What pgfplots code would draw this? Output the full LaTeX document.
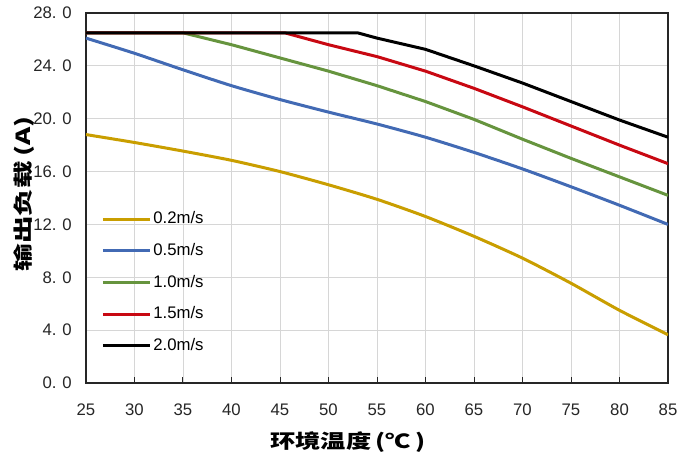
\documentclass[border=0pt]{standalone}
\usepackage{pgfplots}
\pgfplotsset{compat=1.18}
\usepackage{fontspec}
\setmainfont{Liberation Sans}
\newfontfamily\cjk{Noto Sans CJK SC}
\definecolor{cgold}{RGB}{201,158,0}
\definecolor{cblue}{RGB}{66,106,180}
\definecolor{cgreen}{RGB}{102,148,62}
\definecolor{cred}{RGB}{200,8,18}
\begin{document}
\begin{tikzpicture}
\begin{axis}[
  name=ax,
  width=582bp, height=370bp, scale only axis,
  xmin=25, xmax=85, ymin=0, ymax=28,
  xtick={25,30,...,85},
  ytick={0,4,...,28},
  yticklabels={0.\hspace{0.35em}0,4.\hspace{0.35em}0,8.\hspace{0.35em}0,12.\hspace{0.35em}0,16.\hspace{0.35em}0,20.\hspace{0.35em}0,24.\hspace{0.35em}0,28.\hspace{0.35em}0},
  /pgf/number format/assume math mode=true,
  grid=major,
  grid style={draw=black!16, line width=0.9bp},
  axis line style={line width=1.1bp, draw=black!85},
  tick align=inside,
  xtick pos=lower,
  ytick style={draw=none},
  xtick style={draw=black!85, line width=1bp},
  major tick length=6bp,
  tick label style={font=\fontsize{16.8}{19}\selectfont, text=black!85},
  xticklabel style={anchor=north, inner sep=0pt, yshift=-21bp},
  yticklabel style={anchor=east, inner sep=0pt, xshift=-14bp},
  xlabel={\scalebox{1.3}[1]{\cjk\bfseries 环境温度\,(℃\,)}},
  ylabel={\scalebox{1.42}[1]{\cjk\bfseries 输出负载\,(A)}},
  label style={font=\fontsize{19.5}{22}\selectfont},
  xlabel style={at={(axis description cs:0.45,-0.16)}, anchor=center},
  ylabel style={at={(axis description cs:-0.1065,0.511)}, anchor=center, rotate=0},
  no markers,
  legend cell align=left,
  legend image code/.code={\draw[#1, line width=3bp] (0bp,0bp) -- (47bp,0bp);},
  legend style={at={(rel axis cs:0.026,0.469)}, anchor=north west, draw=none, fill=none,
    inner sep=0pt, row sep=12.7bp, font=\fontsize{16.8}{19}\selectfont,
    nodes={inner sep=2bp, text height=12bp, text depth=3bp}},
]
\addplot[cgold, line width=3bp, smooth, tension=0.4] coordinates {
(25,18.8) (30,18.2) (35,17.55) (40,16.85) (45,16.0) (50,15.0) (55,13.9) (60,12.6) (65,11.1) (70,9.45) (75,7.55) (80,5.5) (85,3.65)};
\addlegendentry{0.2m/s}
\addplot[cblue, line width=3bp, smooth, tension=0.4] coordinates {
(25,26.1) (30,24.95) (35,23.7) (40,22.5) (45,21.45) (50,20.5) (55,19.6) (60,18.6) (65,17.45) (70,16.2) (75,14.85) (80,13.45) (85,12.0)};
\addlegendentry{0.5m/s}
\addplot[cgreen, line width=3bp] coordinates {
(25,26.5) (35,26.5) (40,25.6) (45,24.6) (50,23.6) (55,22.5) (60,21.3) (65,19.95) (70,18.45) (75,17.0) (80,15.6) (85,14.2)};
\addlegendentry{1.0m/s}
\addplot[cred, line width=3bp] coordinates {
(25,26.5) (45.5,26.5) (50,25.6) (55,24.7) (60,23.6) (65,22.3) (70,20.9) (75,19.45) (80,18.0) (85,16.6)};
\addlegendentry{1.5m/s}
\addplot[black, line width=3bp] coordinates {
(25,26.5) (53,26.5) (55,26.1) (60,25.25) (65,24.0) (70,22.7) (75,21.3) (80,19.9) (85,18.6)};
\addlegendentry{2.0m/s}
\end{axis}
\path ([shift={(-86bp,-73bp)}]ax.south west) rectangle ([shift={(28bp,13bp)}]ax.north east);
\end{tikzpicture}
\end{document}
